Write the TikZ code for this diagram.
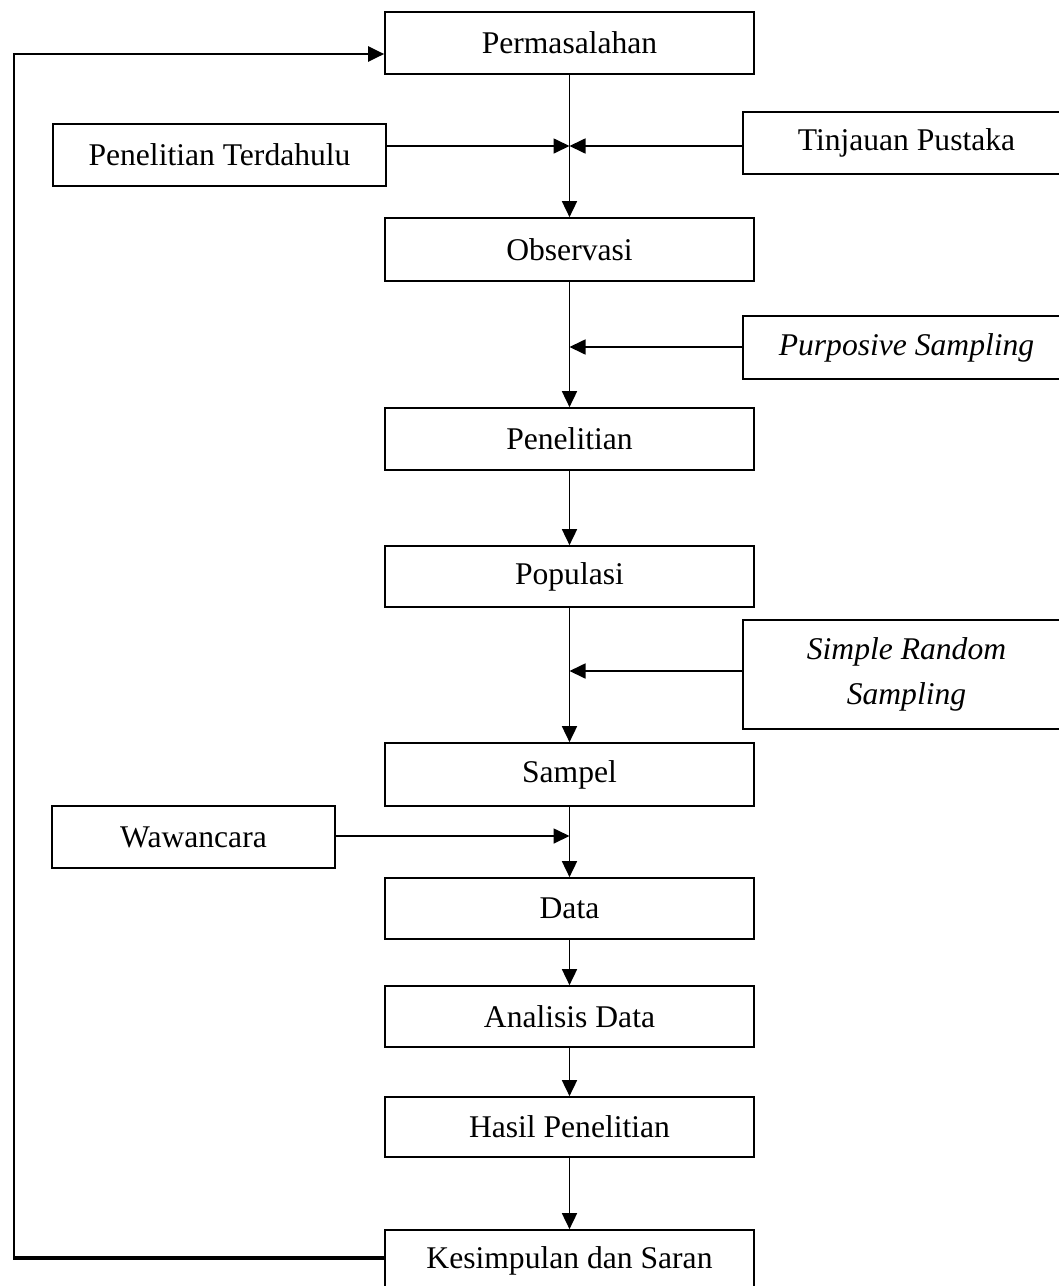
\documentclass[tikz,border=0pt]{standalone}
\usepackage{fontspec}
\setmainfont{Liberation Serif}
\usetikzlibrary{arrows.meta}
\tikzset{
  box/.style={draw, line width=1.7pt, rectangle, inner sep=0pt, align=center,
    font=\fontsize{31.6}{45}\selectfont},
  mainbox/.style={box, minimum width=369pt},
  arr/.style={line width=1.7pt, -{Triangle[length=16pt,width=15pt]}},
  fbline/.style={line width=2.2pt},
}
\begin{document}
\begin{tikzpicture}[x=1pt,y=-1pt]
\useasboundingbox (0,0) rectangle (1059,1286);
% main column
\node[mainbox, minimum height=62pt] (perm)  at (569.5,43)    {Permasalahan};
\node[mainbox, minimum height=63pt] (obs)   at (569.5,249.5) {Observasi};
\node[mainbox, minimum height=62pt] (pen)   at (569.5,439)   {Penelitian};
\node[mainbox, minimum height=61pt] (pop)   at (569.5,576.5) {Populasi};
\node[mainbox, minimum height=63pt] (samp)  at (569.5,774.5) {Sampel};
\node[mainbox, minimum height=61pt] (data)  at (569.5,908.5) {Data};
\node[mainbox, minimum height=61pt] (anal)  at (569.5,1016.5) {Analisis Data};
\node[mainbox, minimum height=60pt] (hasil) at (569.5,1127)  {Hasil Penelitian};
\node[mainbox, minimum height=62pt] (kes)   at (569.5,1261)  {Kesimpulan dan Saran};
% side boxes
\node[box, minimum width=333pt, minimum height=62pt] (pt) at (219.5,155) {Penelitian Terdahulu};
\node[box, minimum width=327pt, minimum height=62pt] (tp) at (906.5,143) {Tinjauan Pustaka};
\node[box, minimum width=327pt, minimum height=63pt] (ps) at (906.5,347.5) {\itshape Purposive Sampling};
\node[box, minimum width=327pt, minimum height=109pt] (srs) at (906.5,674.5) {\itshape Simple Random\\\itshape Sampling};
\node[box, minimum width=283pt, minimum height=62pt] (waw) at (193.5,837) {Wawancara};
% junction coordinates
\coordinate (j1) at (569.5,146);
\coordinate (j2) at (569.5,347);
\coordinate (j3) at (569.5,671);
\coordinate (j4) at (569.5,836);
% vertical flow
\draw[arr] (perm) -- (obs);
\draw[arr] (obs) -- (pen);
\draw[arr] (pen) -- (pop);
\draw[arr] (pop) -- (samp);
\draw[arr] (samp) -- (data);
\draw[arr] (data) -- (anal);
\draw[arr] (anal) -- (hasil);
\draw[arr] (hasil) -- (kes);
% side inputs
\draw[arr] (pt.east |- j1) -- (j1);
\draw[arr] (tp.west |- j1) -- (j1);
\draw[arr] (ps.west |- j2) -- (j2);
\draw[arr] (srs.west |- j3) -- (j3);
\draw[arr] (waw.east |- j4) -- (j4);
% feedback loop
\coordinate (fb1) at (14,1258);
\coordinate (fb2) at (14,54);
\draw[line width=3.2pt] (kes.west |- fb1) -- ([xshift=-0.6pt]fb1);
\draw[fbline] (fb1) -- (fb2);
\draw[fbline, -{Triangle[length=16pt,width=15pt]}] ([xshift=-1.1pt]fb2) -- (fb2 -| perm.west);
\end{tikzpicture}
\end{document}
